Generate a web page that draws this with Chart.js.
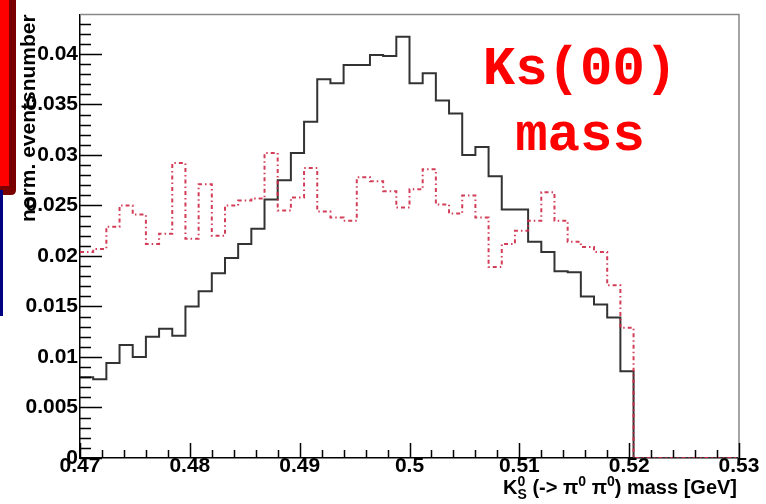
<!DOCTYPE html>
<html>
<head>
<meta charset="utf-8">
<title>Ks(00) mass</title>
<script src="https://cdn.jsdelivr.net/npm/chart.js@4/dist/chart.umd.min.js"></script>
<style>
  html, body { margin: 0; padding: 0; background: #fff; }
  #wrap { position: relative; width: 766px; height: 504px; }
</style>
</head>
<body>
<div id="wrap"><canvas id="massChart" width="766" height="504"></canvas></div>
<script>
// histogram bin edges (50 bins, 0.47 - 0.53 GeV)
const binEdges = [
  0.47, 0.4712, 0.4724, 0.4736, 0.4748, 0.476, 0.4772, 0.4784, 0.4796, 0.4808,
  0.482, 0.4832, 0.4844, 0.4856, 0.4868, 0.488, 0.4892, 0.4904, 0.4916, 0.4928,
  0.494, 0.4952, 0.4964, 0.4976, 0.4988, 0.5, 0.5012, 0.5024, 0.5036, 0.5048,
  0.506, 0.5072, 0.5084, 0.5096, 0.5108, 0.512, 0.5132, 0.5144, 0.5156, 0.5168,
  0.518, 0.5192, 0.5204, 0.5216, 0.5228, 0.524, 0.5252, 0.5264, 0.5276, 0.5288,
  0.53
];

// solid black histogram
const solidCounts = [
  0.0080, 0.0078, 0.0094, 0.0112, 0.0100, 0.0120, 0.0128, 0.0121, 0.0150, 0.0165,
  0.0183, 0.0198, 0.0212, 0.0227, 0.0256, 0.0275, 0.0302, 0.0333, 0.0375, 0.0371,
  0.0389, 0.0389, 0.0399, 0.0398, 0.0417, 0.0371, 0.0381, 0.0354, 0.0341, 0.0300,
  0.0308, 0.0279, 0.0246, 0.0246, 0.0214, 0.0204, 0.0185, 0.0184, 0.0160, 0.0152,
  0.0139, 0.0086, 0, 0, 0, 0, 0, 0, 0, 0
];

// red dash-dotted histogram
const dashedCounts = [
  0.0204, 0.0207, 0.0229, 0.0250, 0.0241, 0.0212, 0.0222, 0.0292, 0.0217, 0.0271,
  0.0220, 0.0250, 0.0255, 0.0257, 0.0302, 0.0245, 0.0258, 0.0287, 0.0244, 0.0238,
  0.0235, 0.0278, 0.0274, 0.0264, 0.0248, 0.0266, 0.0286, 0.0251, 0.0242, 0.0260,
  0.0238, 0.0189, 0.0212, 0.0225, 0.0235, 0.0263, 0.0235, 0.0214, 0.0209, 0.0204,
  0.0171, 0.0129, 0, 0, 0, 0, 0, 0, 0, 0
];

const xTicks = [0.47, 0.48, 0.49, 0.5, 0.51, 0.52, 0.53];
const yTicks = [0, 0.005, 0.01, 0.015, 0.02, 0.025, 0.03, 0.035, 0.04];

const yTitle = "norm. eventsnumber";
const annotation = ["Ks(00)", "mass"];

const LABEL_FONT = "'Liberation Sans', Arial, sans-serif";

// one point per bin low edge, plus the closing edge
const toSteps = (counts) =>
  counts.map((v, i) => ({ x: binEdges[i], y: v }))
    .concat({ x: binEdges[binEdges.length - 1], y: counts[counts.length - 1] });

const fmt = (v) => String(Number(v.toFixed(3)));

const rootStyle = {
  id: "rootStyle",
  beforeDraw(chart) {
    const ctx = chart.ctx;
    ctx.save();
    ctx.fillStyle = "#fff";
    ctx.fillRect(0, 0, chart.width, chart.height);
    // slide decoration at the left edge
    ctx.fillStyle = "#7a0000";
    ctx.beginPath();
    ctx.moveTo(0, 0);
    ctx.lineTo(16, 0);
    ctx.lineTo(16, 190);
    ctx.quadraticCurveTo(16, 195, 11, 195);
    ctx.lineTo(0, 195);
    ctx.closePath();
    ctx.fill();
    ctx.fillStyle = "#ff0000";
    ctx.fillRect(0, 0, 9, 186);
    ctx.fillStyle = "#000080";
    ctx.fillRect(0, 190, 3, 126);
    ctx.restore();
  },
  afterDraw(chart) {
    const ctx = chart.ctx;
    const { left, right, top, bottom } = chart.chartArea;
    const xs = chart.scales.x;
    const ys = chart.scales.y;
    ctx.save();

    // frame
    ctx.strokeStyle = "#888";
    ctx.lineWidth = 1.5;
    ctx.beginPath();
    ctx.moveTo(left, top);
    ctx.lineTo(right, top);
    ctx.lineTo(right, bottom);
    ctx.stroke();

    // ticks inside the frame
    ctx.strokeStyle = "#000";
    ctx.lineWidth = 1.5;
    ctx.beginPath();
    for (let k = 0; k <= 43; k++) {
      const y = Math.round(ys.getPixelForValue(k / 1000)) + 0.5;
      const len = k % 5 === 0 ? 22 : 11;
      ctx.moveTo(left, y);
      ctx.lineTo(left + len, y);
    }
    for (let k = 235; k <= 265; k++) {
      const x = Math.round(xs.getPixelForValue(k / 500)) + 0.5;
      const len = k % 5 === 0 ? 15 : 8;
      ctx.moveTo(x, bottom);
      ctx.lineTo(x, bottom - len);
    }
    ctx.stroke();

    // y title
    ctx.fillStyle = "#000";
    ctx.font = "bold 21px " + LABEL_FONT;
    ctx.save();
    ctx.translate(35, 222);
    ctx.rotate(-Math.PI / 2);
    ctx.textAlign = "left";
    ctx.textBaseline = "alphabetic";
    ctx.fillText(yTitle, 0, 0);
    ctx.restore();

    // x title: K^0_S (-> pi^0 pi^0) mass [GeV]
    const big = "bold 20px " + LABEL_FONT;
    const small = "bold 14px " + LABEL_FONT;
    const parts = [
      { t: "K", f: big, dy: 0 },
      { t: "0", f: small, dy: -8, sub: "S" },
      { t: " (-> \u03c0", f: big, dy: 0 },
      { t: "0", f: small, dy: -8 },
      { t: " \u03c0", f: big, dy: 0 },
      { t: "0", f: small, dy: -8 },
      { t: ") mass [GeV]", f: big, dy: 0 },
    ];
    let total = 0;
    parts.forEach((p) => {
      ctx.font = p.f;
      p.w = ctx.measureText(p.t).width;
      if (p.sub) p.w = Math.max(p.w, ctx.measureText(p.sub).width);
      total += p.w;
    });
    let cx = right - 2 - total;
    const base = 494;
    ctx.textAlign = "left";
    parts.forEach((p) => {
      ctx.font = p.f;
      ctx.fillText(p.t, cx, base + p.dy);
      if (p.sub) ctx.fillText(p.sub, cx, base + 5);
      cx += p.w;
    });

    // annotation
    ctx.fillStyle = "#ff0000";
    ctx.font = "bold 54px 'Liberation Mono', 'DejaVu Sans Mono', monospace";
    ctx.textAlign = "center";
    ctx.fillText(annotation[0], 580, 84);
    ctx.fillText(annotation[1], 580, 150);

    ctx.restore();
  },
};

const ctx = document.getElementById("massChart").getContext("2d");

new Chart(ctx, {
  type: "line",
  data: {
    datasets: [
      {
        label: "dashed",
        data: toSteps(dashedCounts),
        borderColor: "rgba(205, 40, 70, 0.9)",
        borderWidth: 2,
        borderDash: [4, 3, 1.5, 3],
        stepped: true,
        pointRadius: 0,
        fill: false,
      },
      {
        label: "solid",
        data: toSteps(solidCounts),
        borderColor: "#333",
        borderWidth: 2,
        stepped: true,
        pointRadius: 0,
        fill: false,
      },
    ],
  },
  options: {
    responsive: false,
    animation: false,
    devicePixelRatio: 1,
    layout: { padding: { top: 10, right: 27, left: 0, bottom: 0 } },
    plugins: {
      legend: { display: false },
      tooltip: { enabled: false },
    },
    scales: {
      x: {
        type: "linear",
        min: 0.47,
        max: 0.53,
        afterBuildTicks: (scale) => {
          scale.ticks = xTicks.map((v) => ({ value: v }));
        },
        afterFit: (scale) => {
          scale.height = 46;
        },
        grid: { display: false, drawTicks: false },
        border: { display: true, color: "#000", width: 1.5 },
        ticks: {
          autoSkip: false,
          maxRotation: 0,
          padding: -4,
          color: "#000",
          font: { family: LABEL_FONT, size: 21, weight: "bold" },
          callback: (v) => fmt(v),
        },
      },
      y: {
        type: "linear",
        min: 0,
        max: 0.0439,
        afterBuildTicks: (scale) => {
          scale.ticks = yTicks.map((v) => ({ value: v }));
        },
        afterFit: (scale) => {
          scale.width = 80;
        },
        grid: { display: false, drawTicks: false },
        border: { display: true, color: "#000", width: 1.5 },
        ticks: {
          autoSkip: false,
          padding: 2,
          color: "#000",
          font: { family: LABEL_FONT, size: 21, weight: "bold" },
          callback: (v) => fmt(v),
        },
      },
    },
  },
  plugins: [rootStyle],
});
</script>
</body>
</html>
